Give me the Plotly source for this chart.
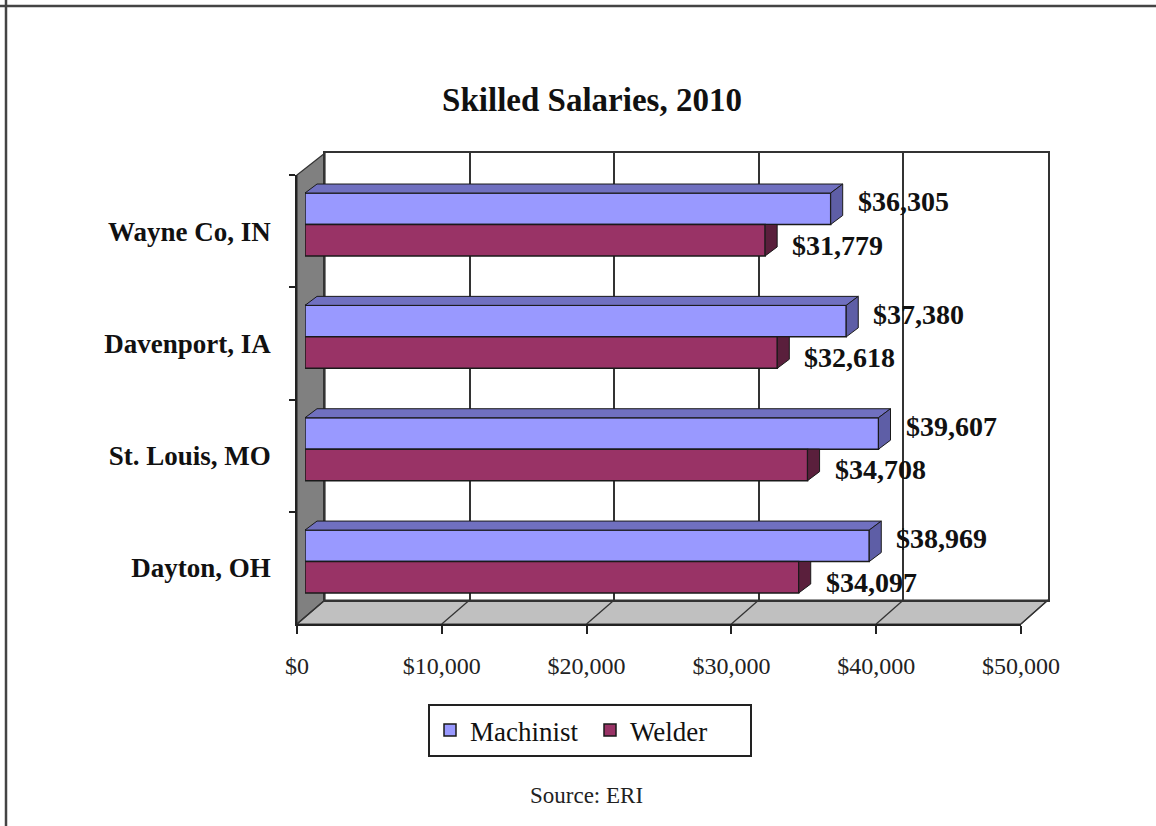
import plotly.graph_objects as go

# ---------------- data ----------------
cities = ["Wayne Co, IN", "Davenport, IA", "St. Louis, MO", "Dayton, OH"]
machinist = [36305, 37380, 39607, 38969]
welder = [31779, 32618, 34708, 34097]
tick_vals = [0, 10000, 20000, 30000, 40000, 50000]
tick_text = ["$0", "$10,000", "$20,000", "$30,000", "$40,000", "$50,000"]
series_names = ["Machinist", "Welder"]
title_text = "Skilled Salaries, 2010"
source_text = "Source: ERI"

# ---------------- layout constants (pixels) ----------------
W, H = 1156, 826
FONT = "Liberation Serif, Times New Roman, serif"
def X(px): return px / W
def Y(py): return 1 - py / H

FRONT_L, FRONT_R, FRONT_T, FRONT_B = 297, 1021, 175, 624
BACK_L, BACK_R, BACK_T, BACK_B = 325, 1048, 153, 600
BAR_L, BAR_R, BAR_T, BAR_B = 305, 1029, 168.3, 617.7
XMAX = 50000

C_MACH = "#9999FF"
C_WELD = "#993366"
C_MACH_TOP = "#7070C0"
C_MACH_SIDE = "#5E5EA6"
C_WELD_SIDE = "#5A1F3C"
EDGE = "#1a1a1a"

idx = list(range(len(cities)))

fig = go.Figure()

# back wall subplot (x / y) - invisible trace to register it
fig.add_trace(go.Scatter(x=[None], y=[None], xaxis="x", yaxis="y",
                         showlegend=False, hoverinfo="skip"))

# bars (x2 / y2)
fig.add_trace(go.Bar(y=idx, x=machinist, orientation="h", name=series_names[0],
                     marker=dict(color=C_MACH, line=dict(color=EDGE, width=1.5)),
                     xaxis="x2", yaxis="y2", hoverinfo="x"))
fig.add_trace(go.Bar(y=idx, x=welder, orientation="h", name=series_names[1],
                     marker=dict(color=C_WELD, line=dict(color=EDGE, width=1.5)),
                     xaxis="x2", yaxis="y2", hoverinfo="x"))

# front axes (x3 / y3) - invisible trace registers categories
fig.add_trace(go.Scatter(x=[0] * len(cities), y=cities, mode="markers",
                         marker=dict(opacity=0), xaxis="x3", yaxis="y3",
                         showlegend=False, hoverinfo="skip"))

# ---------------- 3D decorations ----------------
shapes = []
# left wall
shapes.append(dict(type="path", xref="paper", yref="paper", layer="below",
                   path=f"M {X(FRONT_L)},{Y(FRONT_T)} L {X(BACK_L)},{Y(BACK_T)} "
                        f"L {X(BACK_L)},{Y(BACK_B)} L {X(FRONT_L)},{Y(FRONT_B)} Z",
                   fillcolor="#808080", line=dict(color="#333333", width=1.2)))
# floor
shapes.append(dict(type="path", xref="paper", yref="paper", layer="below",
                   path=f"M {X(FRONT_L)},{Y(FRONT_B)} L {X(BACK_L)},{Y(BACK_B)} "
                        f"L {X(BACK_R)},{Y(BACK_B)} L {X(FRONT_R)},{Y(FRONT_B)} Z",
                   fillcolor="#C0C0C0", line=dict(color="#333333", width=1.2)))
# floor grid diagonals
for t in tick_vals:
    fx = FRONT_L + t / XMAX * (FRONT_R - FRONT_L)
    bx = BACK_L + t / XMAX * (BACK_R - BACK_L)
    shapes.append(dict(type="line", xref="paper", yref="paper", layer="below",
                       x0=X(fx), y0=Y(FRONT_B), x1=X(bx), y1=Y(BACK_B),
                       line=dict(color="#333333", width=1.3)))

# bar depth faces (data units of x2/y2)
DX = 12 * XMAX / (BAR_R - BAR_L)
DY = 9 / ((BAR_B - BAR_T) / 4)
BW = 0.28
for i, (m, w) in enumerate(zip(machinist, welder)):
    top = i - BW
    shapes.append(dict(type="path", xref="x2", yref="y2", layer="above",
                       path=f"M 0,{top} L {DX},{top - DY} L {m + DX},{top - DY} L {m},{top} Z",
                       fillcolor=C_MACH_TOP, line=dict(color=EDGE, width=1)))
    shapes.append(dict(type="path", xref="x2", yref="y2", layer="above",
                       path=f"M {m},{top} L {m + DX},{top - DY} L {m + DX},{i - DY} L {m},{i} Z",
                       fillcolor=C_MACH_SIDE, line=dict(color=EDGE, width=1)))
    shapes.append(dict(type="path", xref="x2", yref="y2", layer="above",
                       path=f"M {w},{i} L {w + DX},{i} L {w + DX},{i + BW - DY} L {w},{i + BW} Z",
                       fillcolor=C_WELD_SIDE, line=dict(color=EDGE, width=1)))

# outer frame (top and left edges)
shapes.append(dict(type="line", xref="paper", yref="paper", x0=0, x1=1,
                   y0=Y(6), y1=Y(6), line=dict(color="#444444", width=2.5)))
shapes.append(dict(type="line", xref="paper", yref="paper", x0=X(6), x1=X(6),
                   y0=0, y1=1, line=dict(color="#444444", width=2.5)))

# ---------------- annotations ----------------
annotations = []
for i, (m, w) in enumerate(zip(machinist, welder)):
    annotations.append(dict(x=m, y=i - BW / 2, xref="x2", yref="y2",
                            text=f"${m:,}", showarrow=False, xanchor="left",
                            yanchor="middle", xshift=25, yshift=7,
                            font=dict(family=FONT, size=28, color="#111111", weight="bold")))
    annotations.append(dict(x=w, y=i + BW / 2, xref="x2", yref="y2",
                            text=f"${w:,}", showarrow=False, xanchor="left",
                            yanchor="middle", xshift=25, yshift=-5,
                            font=dict(family=FONT, size=28, color="#111111", weight="bold")))
annotations.append(dict(x=X(586), y=Y(795), xref="paper", yref="paper",
                        text=source_text, showarrow=False, xanchor="center",
                        yanchor="middle", font=dict(family=FONT, size=23, color="#222222")))

fig.update_layout(
    width=W, height=H, autosize=False,
    margin=dict(l=0, r=0, t=0, b=0, pad=0, autoexpand=False),
    paper_bgcolor="white", plot_bgcolor="rgba(0,0,0,0)",
    font=dict(family=FONT, color="#111111"),
    title=dict(text=title_text, x=X(592), xanchor="center", xref="paper",
               y=Y(99), yanchor="middle", yref="paper", automargin=False,
               font=dict(family=FONT, size=33, color="#111111", weight="bold")),
    barmode="group", bargap=0.44, bargroupgap=0,
    showlegend=True,
    legend=dict(orientation="h", x=X(590), xanchor="center", y=Y(704), yanchor="top",
                bgcolor="white", bordercolor="#222222", borderwidth=2,
                font=dict(family=FONT, size=27, color="#111111"),
                itemwidth=30, traceorder="normal",
                entrywidth=115, entrywidthmode="pixels"),
    xaxis=dict(domain=[X(BACK_L), X(BACK_R)], range=[0, XMAX], anchor="y",
               tickvals=tick_vals, showticklabels=False, ticks="",
               showgrid=True, gridcolor="#333333", gridwidth=1.6,
               zeroline=False, showline=True, mirror=True, automargin=False,
               linecolor="#333333", linewidth=1.6, fixedrange=True),
    yaxis=dict(domain=[Y(BACK_B), Y(BACK_T)], range=[0, 1], anchor="x",
               showticklabels=False, ticks="", showgrid=False, zeroline=False,
               showline=True, mirror=True, linecolor="#333333", linewidth=1.6,
               automargin=False, fixedrange=True),
    xaxis2=dict(domain=[X(BAR_L), X(BAR_R)], range=[0, XMAX], anchor="y2",
                visible=False, automargin=False, fixedrange=True),
    yaxis2=dict(domain=[Y(BAR_B), Y(BAR_T)], range=[3.5, -0.5], anchor="x2",
                visible=False, automargin=False, fixedrange=True),
    xaxis3=dict(domain=[X(FRONT_L), X(FRONT_R)], range=[0, XMAX], anchor="y3",
                tickvals=tick_vals, ticktext=tick_text, ticks="outside", ticklen=8,
                tickcolor="#222222", tickwidth=1.5, showline=True, linecolor="#222222",
                linewidth=1.5, showgrid=False, zeroline=False, ticklabelstandoff=11,
                automargin=False,
                tickfont=dict(family=FONT, size=24, color="#222222"), fixedrange=True),
    yaxis3=dict(domain=[Y(FRONT_B), Y(FRONT_T)], type="category",
                categoryorder="array", categoryarray=cities, range=[3.5, -0.5],
                anchor="x3", tickson="boundaries", ticks="outside", ticklen=6,
                tickcolor="#222222", tickwidth=1.5, showline=True,
                linecolor="#222222", linewidth=1.5, showgrid=False, zeroline=False,
                ticklabelstandoff=19, automargin=False,
                tickfont=dict(family=FONT, size=27, color="#111111", weight="bold"),
                fixedrange=True),
    shapes=shapes,
    annotations=annotations,
)

fig.write_html("out.html", include_plotlyjs=True,
               config={"displayModeBar": False},
               post_script="document.body.style.margin='0';document.body.style.overflow='hidden';")
